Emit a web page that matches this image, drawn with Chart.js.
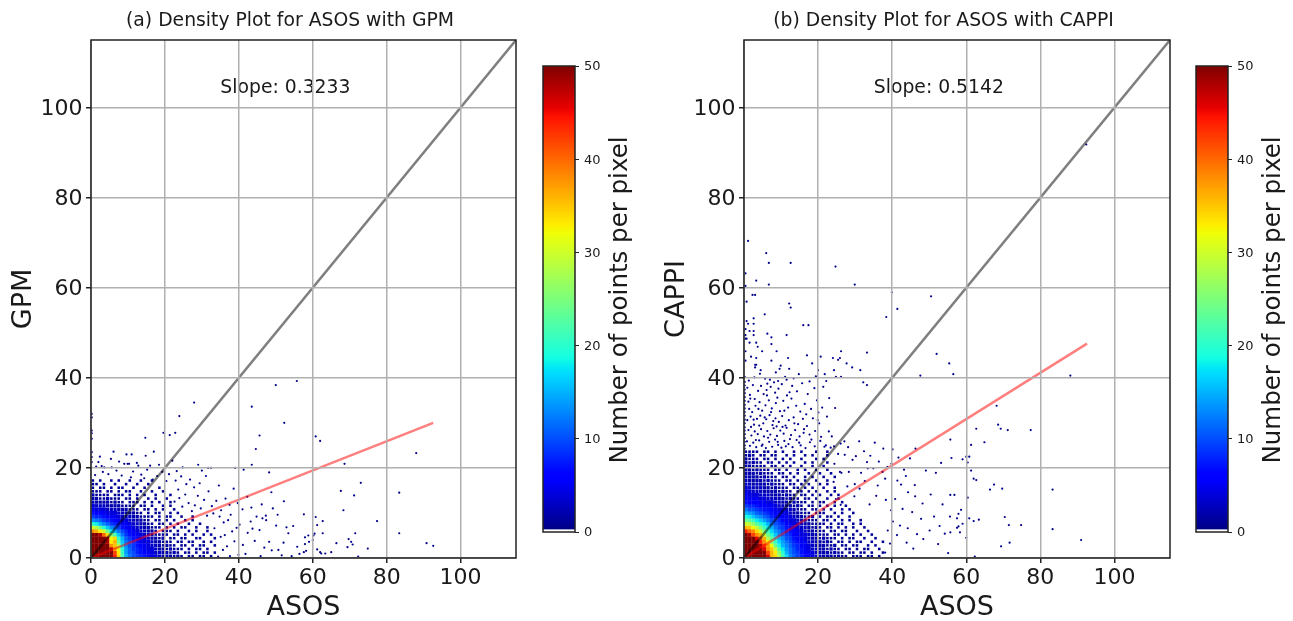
<!DOCTYPE html>
<html>
<head>
<meta charset="utf-8">
<title>Density plots</title>
<script src="https://cdn.jsdelivr.net/npm/chart.js@4/dist/chart.umd.min.js"></script>
<style>
    body { margin: 0; background: #fff; }
    canvas { position: absolute; top: 0; }
</style>
</head>
<body>
<canvas id="gpmChart" width="530" height="621" style="left:0"></canvas>
<canvas id="gpmBar" width="110" height="621" style="left:530px"></canvas>
<canvas id="cappiChart" width="531" height="621" style="left:653px"></canvas>
<canvas id="cappiBar" width="110" height="621" style="left:1183px"></canvas>
<script>
// ------------------- Data -------------------
const axisTicks = [0, 20, 40, 60, 80, 100];
const axisMax = 115;
const barTicks = [0, 10, 20, 30, 40, 50];
const barMax = 50;
const identityX = [0, 115];
const identityY = [0, 115];
const fitX = [0, 92.6];
const gpmFitY = [0, 30];
const cappiFitY = [0, 47.6];

// points per cell, bottom row first, one column per ASOS unit
const gpmDensity = [
    [50,50,50,50,50,50,44,34,22,15,12,10,9,8,7,5,4,4,3,2,2,2,1,2,1,0,1,1,0,1,1,0,1,0],
    [50,50,50,50,50,50,42,33,21,14,11,10,8,7,6,5,4,3,3,2,2,1,2,1,0,1,1,0,1,0,1,1,0,1],
    [50,50,50,50,50,48,36,31,20,14,11,9,8,7,5,4,4,3,2,2,1,2,1,1,1,0,1,0,1,1,0,1,0,0],
    [50,50,50,50,50,38,35,28,18,13,10,9,7,6,5,4,3,3,2,1,2,1,1,0,1,1,0,1,0,1,1,0,0,1],
    [50,50,50,50,48,33,36,24,16,12,10,8,7,5,4,4,3,2,2,1,1,1,0,1,1,0,1,1,0,0,1,0,1,0],
    [50,50,50,50,46,32,34,20,15,11,9,7,6,5,4,3,2,2,1,2,0,1,1,0,1,1,0,0,1,1,0,0,0,1],
    [50,50,48,40,34,26,22,16,12,9,7,6,5,4,3,3,2,1,1,1,1,0,1,1,0,1,0,1,0,0,1,0,1,0],
    [38,36,33,30,24,18,15,12,10,8,6,5,4,3,3,2,2,1,0,1,1,1,0,1,0,0,1,0,1,0,0,1],
    [30,28,24,20,16,13,11,9,7,6,5,4,3,3,2,2,1,1,1,0,1,0,1,0,1,1,0,0,1,0,0,1],
    [20,18,15,13,11,9,8,7,5,5,4,3,3,2,2,1,1,0,1,1,0,1,0,1,0,0,1,0,0,1],
    [13,12,11,9,8,7,6,5,4,4,3,3,2,2,1,1,0,1,1,0,1,0,1,0,0,1,0,1],
    [9,8,8,7,6,5,5,4,3,3,3,2,2,1,1,1,1,0,1,0,1,1,0,0,1,0,0,1],
    [7,6,6,5,4,4,4,3,3,2,2,2,1,1,0,1,0,1,1,0,0,1,0,1],
    [5,4,4,4,3,3,3,2,2,2,1,1,1,0,1,1,0,1,0,1,0,0,1,0],
    [4,3,3,3,2,2,2,2,1,1,1,1,0,1,1,0,1,0,0,1,0,1],
    [3,2,2,2,2,1,2,1,1,0,1,1,1,0,1,0,1,0,1,0,0,1],
    [2,2,1,1,2,1,1,1,0,1,1,0,1,0,0,1,0,1,0,0,1],
    [2,1,1,1,1,0,1,1,1,0,1,0,1,0,1,0,0,1,0,0,0,1],
    [1,1,1,0,1,1,0,1,0,1,1,0,0,1,0,0,1,0,0,1],
    [1,0,1,1,0,1,0,1,1,0,0,1,0,0,1,0,0,0,1],
    [1,1,0,1,0,0,1,0,0,1,0,0,1,0,0,1],
    [1,0,1,0,0,1,0,1,0,0,1,0,0,1,0,0,1]
];

const cappiDensity = [
    [50,50,50,50,50,50,46,36,34,28,22,17,13,11,9,8,6,5,4,3,3,2,2,2,1,2,1,1,0,1,1,1,0,1,1,0,1,0],
    [50,50,50,50,50,50,42,36,33,26,20,15,12,10,9,7,6,5,4,3,2,2,2,1,2,1,1,0,1,1,0,1,1,0,1,0,0,1],
    [50,50,50,50,50,46,38,35,30,23,18,14,12,10,8,7,5,4,3,3,2,2,1,2,1,1,0,1,1,0,1,0,1,1,0,0,1,0],
    [50,50,50,50,48,42,37,32,24,19,15,13,11,9,8,6,5,4,3,2,2,2,1,1,2,0,1,1,0,1,1,0,0,1,0,1,0,0],
    [50,50,50,50,44,38,33,26,21,17,14,12,10,8,7,5,5,3,3,2,2,1,2,1,0,1,1,0,1,0,1,1,0,0,1,0,0,1],
    [50,50,50,46,40,36,28,23,18,15,13,10,9,7,6,5,4,3,2,2,1,2,1,1,1,0,1,0,1,1,0,0,1,0,0,1],
    [50,48,42,38,36,30,24,20,16,13,11,9,8,6,5,4,4,3,2,2,1,1,1,0,1,1,0,1,0,1,0,1,0,0,1],
    [44,40,38,34,30,25,21,17,14,12,10,8,7,6,5,4,3,2,2,1,1,1,0,1,1,0,1,1,0,0,1,0,0,1],
    [36,35,32,29,25,21,18,15,12,10,9,7,6,5,4,3,3,2,1,2,1,0,1,1,0,1,0,1,0,1,0,0,1],
    [30,29,26,23,20,18,15,12,10,9,8,6,5,4,4,3,2,2,1,1,1,1,0,1,0,1,1,0,0,1,0,1],
    [24,23,21,18,16,14,12,10,9,8,6,5,4,4,3,2,2,1,1,1,0,1,1,0,1,0,1,0,1,0,0,1],
    [19,18,16,14,13,11,10,8,7,6,5,5,4,3,2,2,1,1,2,0,1,0,1,1,0,1,0,0,1,0],
    [15,14,13,11,10,9,8,7,6,5,5,4,3,2,2,1,1,1,0,1,1,1,0,0,1,0,1,0,0,1],
    [12,10,10,9,8,7,7,6,5,4,4,3,3,2,1,1,1,0,1,1,0,1,0,1,0,0,1,0,1],
    [9,8,8,7,6,6,5,5,4,3,3,2,2,1,2,1,0,1,1,0,1,0,1,0,1,0,0,1],
    [7,6,6,6,5,5,4,4,3,3,2,2,1,2,1,1,1,0,1,0,1,1,0,0,1,0,1],
    [6,5,5,5,4,4,3,3,3,2,2,1,2,1,1,0,1,1,0,1,0,0,1,0,0,1],
    [5,4,4,4,3,3,3,2,2,2,1,2,1,1,0,1,1,0,1,0,1,0,0,1,0,1],
    [4,4,3,3,3,2,2,2,2,1,2,1,1,0,1,1,0,1,0,1,0,0,1,0,1],
    [4,3,3,2,3,2,2,1,2,1,1,1,0,1,1,0,1,0,1,0,0,1,0,0,1],
    [3,3,2,3,2,2,1,2,1,1,1,0,1,1,0,1,0,1,0,0,1,0,1,0],
    [3,2,2,2,2,1,2,1,1,1,0,1,1,0,1,0,1,0,0,1,0,0,1],
    [3,2,2,2,1,2,1,1,1,0,1,1,0,1,0,0,1,0,1,0,0,1,0,0,1],
    [2,2,2,1,2,1,1,1,0,1,1,0,1,0,1,0,0,1,0,0,1,0,0,1],
    [2,2,1,2,1,1,1,0,1,1,0,1,0,0,1,0,1,0,0,1,0,0,1],
    [2,2,1,1,1,1,0,1,1,0,1,0,1,0,0,1,0,0,1,0,0,1],
    [2,1,2,1,1,0,1,1,0,1,0,1,0,1,0,0,1,0,1,0,0,0,1],
    [2,1,1,1,0,1,1,0,1,0,1,0,1,0,0,1,0,0,0,1,0,1],
    [1,2,1,0,1,1,0,1,1,0,0,1,0,1,0,0,1,0,1,0,0,0,1],
    [1,1,1,1,0,1,1,0,1,0,1,0,0,1,0,1,0,0,0,1,0,0,1,0]
];

// single readings outside the dense cells, [ASOS, GPM]
const gpmPoints = [
    [50,38.4],[55.7,39.3],[27.9,34.5],[23.9,31.5],[43.5,33.6],[52.3,30],[45.6,27.2],[44.6,24.2],[19.6,27.8],[22.8,27.8],
    [14.7,26.7],[21.3,27.3],[17,23.6],[6.1,23.6],[2.4,22.5],[9.6,23],[11,23],[14.8,22.7],[5.4,22],[22,21.6],
    [0.2,32],[0.2,31.2],[0.2,28.3],[0.2,27.7],[0.2,26.5],[0.2,23.5],[0.2,22.4],[0.2,21.3],[2,21.3],[2.9,20.4],
    [3.6,20.1],[5.6,20.1],[9,20.9],[9.9,20.9],[10.3,20.9],[12.4,21.1],[12.8,20.5],[16,20.5],[18.4,20.7],[29,20.7],
    [24.8,20.1],[30,19.4],[31.7,20],[32.5,20],[39,20],[41.3,19.6],[43.5,20.7],[48.2,19],
    [60.8,27],[62,26],[68.6,20.9],[88,23.3],[73,16.7],[67.6,14.9],[71.2,13.9],[83.4,14.5],[68.3,10.6],[57.6,9.7],
    [60.8,9.1],[62.7,8.2],[77.4,8.2],[61.2,7.3],[62.7,5.5],[60.5,5.4],[71.5,5.5],[83.4,5.5],[57.9,4.6],[58.8,5],
    [60.2,5],[69.7,4.2],[70.4,3.6],[59,3.6],[60,4],[57.9,3.1],[66.4,3.3],[70.8,3],[69.4,2.4],[74.9,2.1],
    [90.8,3.3],[92.6,2.7],[57.6,1.3],[58.2,1.6],[61.2,1.9],[62,1.3],[62.3,1],[63.4,1],[65,1.3],[72.3,0.3],
    [34.4,0.3],[35.1,4.7],[36.8,2.6],[38.2,5.9],[34.8,9.2],[37.1,8.4],[39.9,0.7],[41.1,2.9],[40.2,7.4],[42.4,5.6],
    [44.3,3.8],[43.2,8.1],[45.6,6.2],[46.9,2.3],[47.3,9.4],[48.9,1.7],[50.1,7.2],[49.2,11],[52.1,3.4],[53.4,5.5],
    [51.6,0.6],[54.7,7.1],[55.8,2.5],[56.4,0.9],[35.7,1.8],[37.6,0.4],[38.8,3.7],[33.4,6.6],[36.2,5.1],[39.4,6.7],
    [41.8,0.9],[43.7,6.5],[45.9,0.4],[46.4,8.8],[48.2,3.6],[50.7,1.8],[52.9,6.8],[54.3,0.4],
    [22.6,12.5],[23.9,13.3],[24.7,11.4],[25.5,14.1],[26.4,12.2],[27.3,10.4],[28.1,11.7],[28.9,13.8],[29.7,11],[30.6,12.9],
    [31.8,14.8],[32.7,11.5],[33.9,12.7],[35.2,10.6],[36.4,13.2],[37.5,11.8],[38.6,15.4],[39.7,12.2],[41,10.8],[42.3,13.6],
    [43.4,11.2],[44.8,9.2],[46.2,11.9],[47.4,8.4],[48.8,14.6],[50.5,9.6],[52.2,12.6],[23.6,15.2],[25.8,16.4],[27.9,15.7],
    [22.9,17.2],[24.4,18.1],[26.8,17.4],[29.4,16.6],[31.1,18.2],[34.6,16.1],[33.1,9.9],[31.4,9.4],[35.9,7.9],[37.8,9.6],
    [1.1,18.4],[3.2,19.1],[4.7,18.6],[6.9,19.4],[8.3,18.3],[11.4,19.2],[13.6,18.5],[15.2,19.6],[17.9,18.2],[19.3,19.1],
    [21.1,18.6],[23.2,19.3],[7.6,21.4],[1.4,20.3],[10.8,17.9],[14.4,17.7],[16.7,17.4],[20.4,17.1]
];

// single readings outside the dense cells, [ASOS, CAPPI]
const cappiPoints = [
    [92.4,91.8],[1.1,70.4],[6,67.7],[6.7,65.5],[12.6,65.5],[24.7,64.7],[0.4,63.2],[3.3,61.6],[6.7,60.7],[0.4,60.4],
    [29.9,60.7],[39.9,59],[50.5,58.1],[2.3,58.4],[3,58.4],[0.7,56.9],[12.2,56.5],[12.6,55.6],[41.4,55.3],[38.4,53.5],
    [5.6,54.1],[2.6,53.2],[0.7,52.6],[1.1,52],[2.6,52],[16,51.7],[17.4,51.7],[0.4,50.8],[1.5,50.4],[2.6,50.4],
    [6.3,49.8],[11.5,49.5],[2.6,49.5],[0.4,49.5],[7.4,49],[0.4,48.7],[0.7,48.7],[1.5,47.8],[3.3,47.8],[7.4,47.5],
    [3.7,46.9],[8.8,45.9],[4.9,45.9],[0.4,45.9],[26.2,45.9],[33.2,45.6],[52,45.3],[1.9,44.7],[3.3,44.4],[11.9,44.4],
    [17,45],[20.7,44.7],[24,44.4],[25.9,44.4],[25.4,44],[7.4,43.8],[0.4,43.8],[18.4,43.2],[27.7,43.2],[55.4,43.2],
    [3,42.9],[3.3,42.9],[9.9,42.7],[3,42.3],[9.6,42],[12.2,42],[4.5,41.7],[20,41.7],[24.3,41.7],[29.2,42.3],
    [31.4,41.7],[14.8,40.8],[21.8,40.8],[24.8,40.2],[26.2,40.2],[47.6,40.5],[56.5,40.8],[11.1,40.2],[11.5,39.6],[9.2,39.3],
    [8.1,39],[7,39.6],[6.3,38.7],[22.2,39.3],[32.2,39],[33.2,38.4],[88.1,40.5],[68.2,33.8],[68.6,29.6],[69.3,28.7],
    [71.2,28.4],[77.4,28.4],[62.7,28.7],[64.9,25.7],[61.3,25.1],[55.7,26.3],[56,22.2],[59,21.9],[60,22.5],[60.8,22.5],
    [60.4,21.2],[61.3,19.4],[62,17.6],[62.7,17.3],[67.5,16.3],[66.4,15.2],[69.7,15.4],[83.3,15.2],[55.7,14],[56.8,14],
    [60.4,13.4],[58.6,10.7],[57.9,9.8],[57.5,8.8],[60.8,8.8],[62,8.2],[63.4,8.5],[70.4,9.1],[59,7.6],[57.9,7],
    [57.5,6.7],[71.5,7.3],[74.8,7.3],[55.7,5.7],[58.3,5.7],[83.3,6.4],[60,4.5],[71.7,3.4],[69.4,2.6],[91,4],[62.3,0.3],
    [0.2,40.2],[0.2,39.1],[0.2,38.3],[0.2,37.4],[0.2,36.6],[0.2,35.7],[0.2,34.9],[0.2,34],[0.2,33.2],[0.2,32.4],
    [0.2,31.6],[0.2,30.7],[0.2,29.9],[0.2,29],[0.2,28.3],[0.2,27.5],[0.2,26.6],[0.2,25.8],[0.2,25],[0.2,24.3],
    [0.9,37.8],[1.6,36.2],[2.4,38.4],[1.2,34.7],[2.9,35.3],[3.8,37.1],[4.6,38.2],[5.3,36.4],[6.1,37.3],[7.2,38],
    [8.4,36.7],[9.3,37.6],[10.2,38.6],[11.6,36.1],[13,38.2],[14.3,37],[15.7,38.8],[17.2,36.4],[19,37.7],[21.4,38],
    [1.4,33.1],[2.2,32.4],[3.1,33.8],[4.2,34.6],[4.9,32.7],[5.8,33.9],[6.7,35],[7.5,33.2],[8.6,34.4],[9.7,32.6],
    [10.6,34.9],[11.9,33.4],[12.8,35.4],[14.1,33.8],[15.2,32.5],[16.4,34.2],[18.1,33.1],[19.7,35],[21.1,33.4],[23,35.5],
    [0.9,30.6],[1.8,31.4],[2.7,29.6],[3.5,30.9],[4.4,31.6],[5.2,29.9],[6,30.8],[6.9,31.7],[7.7,29.5],[8.5,31],
    [9.4,30.2],[10.3,31.5],[11.2,29.4],[12.1,30.6],[13.4,31.2],[14.6,29.7],[15.9,30.9],[17,29.3],[18.6,31],[20.3,29.9],
    [22.4,31.4],[1.2,28.4],[2,27.2],[2.9,28.1],[3.7,27.5],[4.6,28.6],[5.4,27],[6.3,28.2],[7.1,27.4],[8,28.8],
    [8.9,27.1],[9.8,28.3],[10.7,27.6],[11.5,28.9],[12.7,27.3],[13.8,28.4],[15,27],[16.2,28.6],[17.7,27.4],[19.2,28.2],
    [20.8,26.9],[22.9,28.1],[0.8,25.9],[1.6,24.9],[2.5,25.6],[3.3,24.6],[4.1,26.1],[5,25.2],[5.9,24.4],[6.8,25.8],
    [7.6,24.7],[8.4,26.3],[9.2,25.1],[10.1,24.5],[10.9,26],[12,25.3],[13.1,24.6],[14.2,26.2],[15.3,25],[16.6,24.4],
    [17.8,25.7],[19.1,24.8],[20.6,26],[22.1,25],[23.4,24.5],
    [1.9,29.1],[3.2,26.2],[4.8,24.9],[6.5,26.7],[7.9,30.4],[9.1,25.8],[10.4,29.1],[11.3,24.8],[12.4,26.4],[13.6,29.9],
    [14.9,25.6],[16.1,27.8],[18.2,26.3],[19.9,30.6],[21.7,24.7],[23.7,27],[2.6,30.7],[4.1,29.4],[5.6,31.2],[7.3,32.4],
    [8.8,29.2],[10.9,32.7],[1.7,35.4],[3.9,33.1],[6.2,36.1],[9,35.6],[12.3,36.8],[16.8,31.9],[20.1,32.3],[24.6,33.3],
    [1.3,39.4],[2.8,40.1],[4.3,40.9],[5.7,39.8],[8.6,41.2],[13.4,39.9],[17.7,39.2],[19.4,40.3],
    [24.3,24.8],[25.4,23.1],[26.1,25.4],[27.2,22.9],[28.1,24.6],[29.3,21.8],[30.2,22.6],[31.1,25.9],[32.4,23.7],[33.2,21.3],
    [34.1,22.7],[35.3,25.6],[36.4,21.4],[37.6,24.3],[38.7,20.2],[40.1,24.1],[41.7,22.3],[43.2,19.6],[44.8,22.1],[46.3,24.3],
    [38.1,1.2],[39.4,3.2],[38.8,6.1],[40.2,8.1],[39.7,10.6],[41.3,5.1],[42.1,7.2],[42.8,10.9],[43.9,3.4],[44.2,6.6],
    [45.7,2.1],[45.4,10.2],[46.7,5.3],[47.8,8.7],[48.2,12.1],[48.4,4.2],[50.1,6.1],[50.4,14.1],[51.3,9.2],[52.4,3.1],
    [52.8,7.1],[53.6,11.9],[54.2,5.4],[55.1,1.1],[55.6,9.2],[38.3,12.9],[40.8,13.1],[42.4,16.3],[44.3,14.6],[46.1,16.2],
    [38.1,17.6],[39.8,20.9],[41.4,17.2],[43.7,18.2],[46.2,13.7],[49.1,19.4],[51.8,18.9],[53.2,21.1],
    [24.8,13.1],[26.1,11.8],[27.9,15.9],[29.8,13.7],[31.2,15.4],[32.6,17.1],[33.9,11.9],[34.9,19.9],[36.1,16.1],[37.4,19.1],
    [24.2,16.9],[26.3,18.9],[28.3,19.1],[29.9,16.4],[31.6,18.9],[33.4,19.9],[35.7,13.8],[24.4,20.9],[25.9,19.1],[27.1,25.9]
];

// ------------------- Text -------------------
const gpmTitle = '(a) Density Plot for ASOS with GPM';
const cappiTitle = '(b) Density Plot for ASOS with CAPPI';
const xTitle = 'ASOS';
const gpmYTitle = 'GPM';
const cappiYTitle = 'CAPPI';
const gpmSlope = 'Slope: 0.3233';
const cappiSlope = 'Slope: 0.5142';
const barTitle = 'Number of points per pixel';

// ------------------- Helpers -------------------
const FONT = '"DejaVu Sans", sans-serif';
const TEXT_COLOR = '#1a1a1a';
const CELL_HEIGHT = 0.8;

// same ramp as matplotlib jet, t from 0 to 1
function jet(t) {
    const ramp = (v, stops) => {
        for (let i = 1; i < stops.length; i++) {
            if (v <= stops[i][0]) {
                const a = stops[i - 1], b = stops[i];
                return a[1] + (b[1] - a[1]) * (v - a[0]) / (b[0] - a[0]);
            }
        }
        return stops[stops.length - 1][1];
    };
    const r = ramp(t, [[0, 0], [0.35, 0], [0.66, 1], [0.89, 1], [1, 0.5]]);
    const g = ramp(t, [[0, 0], [0.125, 0], [0.375, 1], [0.64, 1], [0.91, 0], [1, 0]]);
    const b = ramp(t, [[0, 0.5], [0.11, 1], [0.34, 1], [0.65, 0], [1, 0]]);
    return `rgb(${Math.round(r * 255)},${Math.round(g * 255)},${Math.round(b * 255)})`;
}

function toCells(rows) {
    const cells = [];
    rows.forEach((row, i) => {
        row.forEach((count, j) => {
            if (count > 0) cells.push({ x: j + 0.5, y: (i + 0.5) * CELL_HEIGHT, v: count });
        });
    });
    return cells;
}

const toXY = (xs, ys) => xs.map((x, i) => ({ x, y: ys[i] }));

function cellRadius(ctx) {
    if (!ctx.raw || ctx.raw.v > 3) return 2.8;
    return ctx.raw.v === 1 ? 1.8 : 2.3;
}

const plotFrame = {
    id: 'plotFrame',
    afterDraw(chart) {
        const { ctx, chartArea: a } = chart;
        ctx.save();
        ctx.strokeStyle = '#222';
        ctx.lineWidth = 1.5;
        ctx.strokeRect(a.left, a.top, a.right - a.left, a.bottom - a.top);
        ctx.restore();
    }
};

const fixedTicks = values => axis => { axis.ticks = values.map(value => ({ value })); };

// ------------------- Density Panels -------------------
function drawPanel(id, opts) {
    const panelText = {
        id: 'panelText',
        afterDatasetsDraw(chart) {
            const { ctx, scales, chartArea } = chart;
            ctx.save();
            ctx.font = `18.8px ${FONT}`;
            ctx.fillStyle = TEXT_COLOR;
            ctx.textAlign = 'center';
            ctx.textBaseline = 'middle';
            // the heading sits a little left of the plot centre
            ctx.fillText(opts.title, (chartArea.left + chartArea.right) / 2 - 13.5, 21);
            ctx.fillText(opts.slope, scales.x.getPixelForValue(52.6), scales.y.getPixelForValue(104.4));
            ctx.restore();
        }
    };

    const axisConfig = (title, fit, pad, offset) => ({
        type: 'linear',
        min: 0,
        max: axisMax,
        afterBuildTicks: fixedTicks(axisTicks),
        afterFit: fit,
        grid: { color: '#b0b0b0', lineWidth: 1.5, z: 1, tickColor: '#222', tickLength: 5 },
        border: { display: false },
        ticks: { color: TEXT_COLOR, font: { family: FONT, size: 22 }, padding: pad, labelOffset: offset, maxRotation: 0, autoSkip: false },
        title: {
            display: true,
            text: title,
            color: TEXT_COLOR,
            font: { family: FONT, size: 27, lineHeight: 1 },
            padding: { top: 10, bottom: 0 }
        }
    });

    new Chart(document.getElementById(id), {
        type: 'scatter',
        data: {
            datasets: [
                {
                    data: toXY(identityX, identityY),
                    showLine: true,
                    borderColor: 'rgba(0,0,0,0.5)',
                    borderWidth: 2.5,
                    pointRadius: 0,
                    order: 0
                },
                {
                    data: toXY(fitX, opts.fitY),
                    showLine: true,
                    borderColor: 'rgba(255,0,0,0.5)',
                    borderWidth: 2.5,
                    pointRadius: 0,
                    order: 1
                },
                {
                    data: opts.points.map(p => ({ x: p[0], y: p[1] })),
                    pointStyle: 'circle',
                    pointRadius: 1.1,
                    pointBorderWidth: 0,
                    pointBackgroundColor: '#00008c',
                    order: 2
                },
                {
                    data: toCells(opts.cells),
                    pointStyle: 'rect',
                    pointRadius: cellRadius,
                    pointBorderWidth: 0,
                    pointBackgroundColor: ctx => (ctx.raw ? jet(ctx.raw.v / barMax) : '#00008c'),
                    order: 3
                }
            ]
        },
        options: {
            responsive: false,
            animation: false,
            events: [],
            layout: { padding: { top: 40, right: 14 } },
            plugins: { legend: { display: false }, tooltip: { enabled: false } },
            scales: {
                x: axisConfig(xTitle, axis => { axis.height = 63; }, 2, 0),
                y: axisConfig(opts.yTitle, axis => { axis.width = 91; }, 3.5, 1.5)
            }
        },
        plugins: [plotFrame, panelText]
    });
}

// ------------------- Colorbars -------------------
function drawColorbar(id) {
    const barLabel = {
        id: 'barLabel',
        afterDraw(chart) {
            const { ctx, chartArea: a } = chart;
            ctx.save();
            ctx.translate(a.right + 52, 300);
            ctx.rotate(-Math.PI / 2);
            ctx.font = `24.5px ${FONT}`;
            ctx.fillStyle = TEXT_COLOR;
            ctx.textAlign = 'center';
            ctx.textBaseline = 'alphabetic';
            ctx.fillText(barTitle, 0, 0);
            ctx.restore();
        }
    };

    new Chart(document.getElementById(id), {
        type: 'bar',
        data: {
            labels: [''],
            datasets: [{
                data: [barMax],
                barPercentage: 1,
                categoryPercentage: 1,
                backgroundColor: ctx => {
                    const a = ctx.chart.chartArea;
                    if (!a) return '#000080';
                    const gradient = ctx.chart.ctx.createLinearGradient(0, a.bottom, 0, a.top);
                    gradient.addColorStop(0, '#fff');
                    gradient.addColorStop(0.005, '#fff');
                    gradient.addColorStop(0.006, jet(0));
                    for (let i = 1; i <= 100; i++) gradient.addColorStop(i / 100, jet(i / 100));
                    return gradient;
                }
            }]
        },
        options: {
            responsive: false,
            animation: false,
            events: [],
            layout: { padding: { left: 13, top: 66, bottom: 89 } },
            plugins: { legend: { display: false }, tooltip: { enabled: false } },
            scales: {
                x: { display: false },
                y: {
                    position: 'right',
                    min: 0,
                    max: barMax,
                    afterBuildTicks: fixedTicks(barTicks),
                    afterFit: axis => { axis.width = 65; },
                    grid: { display: true, drawOnChartArea: false, tickColor: '#222', tickLength: 4 },
                    border: { display: false },
                    ticks: { color: TEXT_COLOR, font: { family: FONT, size: 13 }, padding: 5, labelOffset: 1 }
                }
            }
        },
        plugins: [plotFrame, barLabel]
    });
}

// ------------------- Initialize -------------------
drawPanel('gpmChart', { title: gpmTitle, yTitle: gpmYTitle, slope: gpmSlope, fitY: gpmFitY, cells: gpmDensity, points: gpmPoints });
drawPanel('cappiChart', { title: cappiTitle, yTitle: cappiYTitle, slope: cappiSlope, fitY: cappiFitY, cells: cappiDensity, points: cappiPoints });
drawColorbar('gpmBar');
drawColorbar('cappiBar');
</script>
</body>
</html>
